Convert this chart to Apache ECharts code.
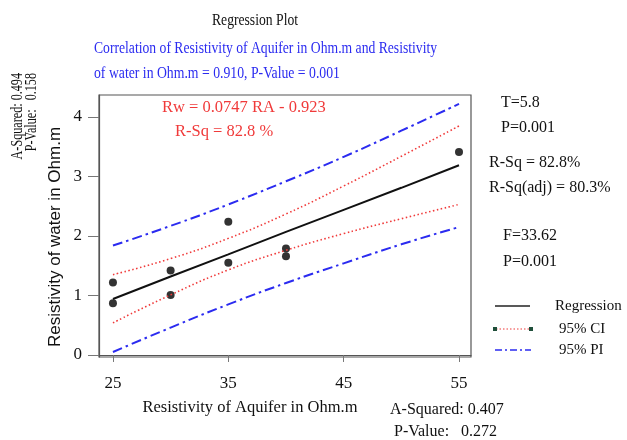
<!DOCTYPE html>
<html><head><meta charset="utf-8">
<script src="https://cdn.jsdelivr.net/npm/echarts@6/dist/echarts.min.js"></script>
<style>html,body{margin:0;padding:0;background:#fff}#c{width:627px;height:440px}</style>
</head><body><div id="c"></div>
<script>
// Observed points
const pointsX = [25, 25, 30, 30, 35, 35, 40, 40, 55];
const pointsY = [1.22, 0.87, 1.42, 1.01, 2.24, 1.55, 1.79, 1.66, 3.41];
// Band/fit read positions
const bandX = [25, 30, 35, 40, 45, 50, 55];
const fitY = [0.94, 1.32, 1.69, 2.07, 2.44, 2.81, 3.19];
const ciLow = [0.54, 1.01, 1.43, 1.76, 2.04, 2.29, 2.53];
const ciUp = [1.35, 1.62, 1.96, 2.37, 2.84, 3.34, 3.85];
const piLow = [0.05, 0.46, 0.85, 1.21, 1.54, 1.86, 2.15];
const piUp = [1.84, 2.17, 2.53, 2.92, 3.33, 3.77, 4.22];
const xTicks = [25, 35, 45, 55];
const yTicks = [0, 1, 2, 3, 4];

const F = 'Liberation Serif';
const S = 'Liberation Sans';
const pair = (xs, ys) => xs.map((x, i) => [x, ys[i]]);
const RED = '#f03a3a', BLUE = '#2b2bf0';

function txt(text, x, y, opt) {
  opt = opt || {};
  return {
    type: 'text', x: x, y: y,
    rotation: opt.rot || 0, scaleX: opt.sx || 1, scaleY: 1,
    style: {
      text: text, x: 0, y: 0,
      fontFamily: opt.font || F, fontSize: opt.size || 16,
      fill: opt.color || '#111',
      textAlign: opt.align || 'left', textVerticalAlign: 'middle'
    }
  };
}

const chart = echarts.init(document.getElementById('c'), null, {renderer: 'canvas'});
chart.setOption({
  backgroundColor: '#fff',
  animation: false,
  grid: {left: 99, right: 156, top: 95, bottom: 83, show: true, borderColor: '#555', borderWidth: 1.2},
  xAxis: {
    type: 'value', min: 23.79, max: 56.04,
    splitLine: {show: false},
    axisLine: {lineStyle: {color: '#555', width: 1.2}},
    axisTick: {show: true, length: 7, customValues: xTicks, lineStyle: {color: '#777'}},
    axisLabel: {customValues: xTicks, color: '#111', fontFamily: F, fontSize: 17, margin: 18}
  },
  yAxis: {
    type: 'value', min: -0.034, max: 4.37,
    splitLine: {show: false},
    axisLine: {show: true, lineStyle: {color: '#555', width: 1.2}},
    axisTick: {show: true, length: 11, customValues: yTicks, lineStyle: {color: '#777'}},
    axisLabel: {customValues: yTicks, color: '#111', fontFamily: F, fontSize: 17, margin: 17}
  },
  series: [
    {type: 'line', data: pair(bandX, piUp), symbol: 'none', smooth: true,
     lineStyle: {color: BLUE, width: 2, type: [10, 4, 2.5, 4]}},
    {type: 'line', data: pair(bandX, piLow), symbol: 'none', smooth: true,
     lineStyle: {color: BLUE, width: 2, type: [10, 4, 2.5, 4]}},
    {type: 'line', data: pair(bandX, ciUp), symbol: 'none', smooth: true,
     lineStyle: {color: RED, width: 1.6, type: [1.5, 2.5]}},
    {type: 'line', data: pair(bandX, ciLow), symbol: 'none', smooth: true,
     lineStyle: {color: RED, width: 1.6, type: [1.5, 2.5]}},
    {type: 'line', data: pair(bandX, fitY), symbol: 'none',
     lineStyle: {color: '#111', width: 2}},
    {type: 'scatter', data: pair(pointsX, pointsY), symbolSize: 8,
     itemStyle: {color: '#000'}}
  ],
  graphic: [
    txt('Regression Plot', 255, 20, {align: 'center', size: 17.5, sx: 0.78}),
    txt('Correlation of Resistivity of Aquifer in Ohm.m and Resistivity', 94, 48, {color: BLUE, size: 17.5, sx: 0.78}),
    txt('of water in Ohm.m = 0.910, P-Value = 0.001', 94, 73, {color: BLUE, size: 17.5, sx: 0.785}),
    txt('Rw = 0.0747 RA - 0.923', 162, 108, {color: RED, size: 16.5}),
    txt('R-Sq = 82.8 %', 175, 132, {color: RED, size: 16.5}),
    txt('T=5.8', 501, 103),
    txt('P=0.001', 501, 128),
    txt('R-Sq = 82.8%', 489, 163),
    txt('R-Sq(adj) = 80.3%', 489, 188),
    txt('F=33.62', 503, 236),
    txt('P=0.001', 503, 262),
    txt('Resistivity of water in Ohm.m', 55, 237, {font: S, size: 17, rot: Math.PI / 2, align: 'center'}),
    txt('Resistivity of Aquifer in Ohm.m', 250, 408, {size: 16.5, align: 'center'}),
    // legend
    {type: 'line', shape: {x1: 495, y1: 306, x2: 530, y2: 306}, style: {stroke: '#222', lineWidth: 1.5}},
    txt('Regression', 555, 306, {size: 15}),
    {type: 'line', shape: {x1: 496, y1: 329, x2: 530, y2: 329}, style: {stroke: RED, lineWidth: 1.2, lineDash: [1.5, 2]}},
    {type: 'rect', shape: {x: 493, y: 327, width: 4, height: 4}, style: {fill: '#1f4f3a'}},
    {type: 'rect', shape: {x: 529, y: 327, width: 4, height: 4}, style: {fill: '#1f4f3a'}},
    txt('95% CI', 559, 329, {size: 15}),
    {type: 'line', shape: {x1: 495, y1: 350, x2: 531, y2: 350}, style: {stroke: BLUE, lineWidth: 1.5, lineDash: [7, 3, 2, 3]}},
    txt('95% PI', 559, 350, {size: 15}),
    // normality stats
    txt('A-Squared: 0.407', 390, 410),
    txt('P-Value:   0.272', 394, 432),
    txt('A-Squared: 0.494', 18, 73, {rot: Math.PI / 2, align: 'right', size: 17, sx: 0.715}),
    txt('P-Value:   0.158', 32, 73, {rot: Math.PI / 2, align: 'right', size: 17, sx: 0.715})
  ]
});
</script></body></html>
